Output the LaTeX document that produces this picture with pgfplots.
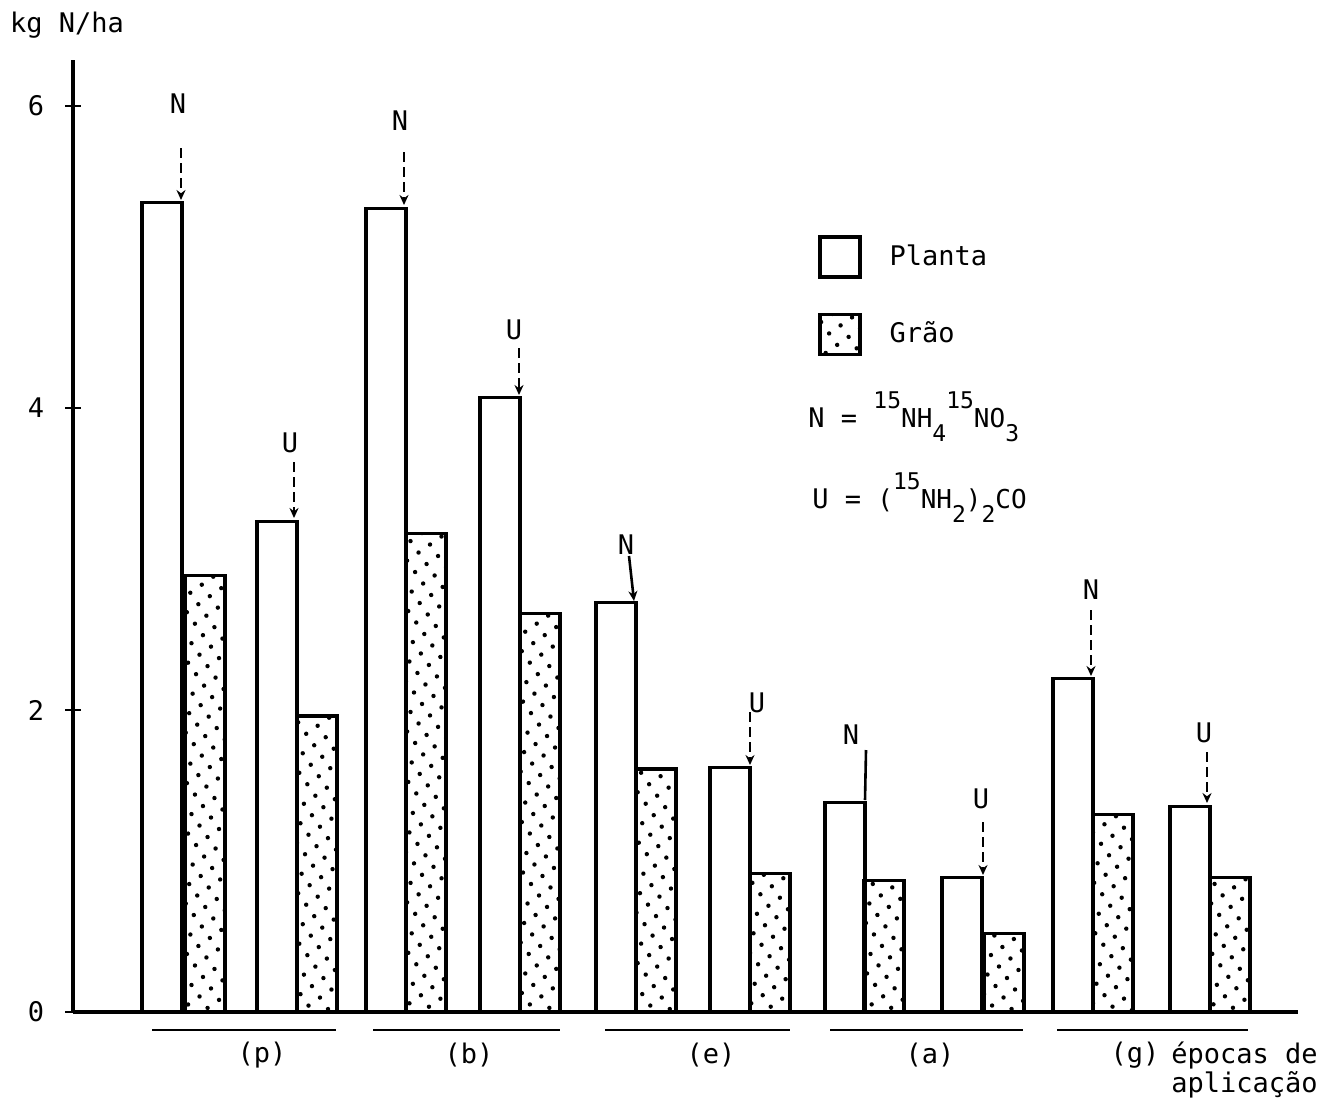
\documentclass[border=0pt]{standalone}
\usepackage{fontspec}
\setmainfont{DejaVu Sans Mono}
\usepackage{pgfplots}
\pgfplotsset{compat=1.18}
\usetikzlibrary{patterns.meta,arrows.meta}

% N uptake (kg N/ha) per application time; first bar of each pair = 15NH4 15NO3, second = urea
\pgfplotstableread{
x    y
162  5.36
277  3.25
386  5.32
500  4.07
616  2.71
730  1.62
845  1.39
962  0.89
1073 2.21
1190 1.36
}\planta
\pgfplotstableread{
x    y
205  2.89
317  1.96
426  3.17
540  2.64
656  1.61
770  0.92
884  0.87
1004 0.52
1113 1.31
1230 0.89
}\grao

\newcommand\up[1]{\raisebox{0.7em}{\fontsize{11.5}{12}\selectfont #1}}
\newcommand\dn[1]{\raisebox{-0.55em}{\fontsize{11.5}{12}\selectfont #1}}

\begin{document}
\fontsize{13.5}{16}\selectfont
\begin{tikzpicture}
\path[use as bounding box] (0pt,0pt) rectangle (665.5pt,-551pt);
\begin{axis}[
  at={(36.5pt,-506pt)}, anchor=south west,
  scale only axis, width=612.5pt, height=476pt,
  xmin=73, xmax=1298, ymin=0, ymax=6.305,
  axis x line=bottom, axis y line=left,
  axis line style={-, line width=1.6pt},
  xtick=\empty, ytick={0,2,4,6},
  tick style={black, line width=1.3pt},
  major tick length=8pt, tick align=center,
  /pgf/number format/assume math mode=true,
  yticklabel style={anchor=center, xshift=-14.5pt},
  clip=false,
  legend style={draw=none, fill=none, at={(axis cs:818,5.146)}, anchor=north west,
    inner sep=0pt, row sep=17pt, column sep=12pt,
    nodes={font=\fontsize{13.5}{16}\selectfont}},
  legend cell align=left,
  legend image code/.code={\draw[#1, line width=1.6pt] (0pt,-10pt) rectangle (20pt,10pt);},
]
\addplot[ybar, bar width=40, bar shift=0pt, draw=black, line width=1.6pt, fill=white]
  table[x=x, y=y] {\planta};
\addlegendentry{Planta}
\addplot[ybar, bar width=40, bar shift=0pt, draw=black, line width=1.6pt,
  pattern={Dots[distance=7pt, angle=35, radius=1.1pt]}, pattern color=black]
  table[x=x, y=y] {\grao};
\addlegendentry{Grão}
\end{axis}

\begin{scope}[x=0.5pt, y=-0.5pt]
  \node at (67,25) {kg N/ha};
  % source markers above the Planta bars
  \tikzset{src/.style={line width=1.3pt, dash pattern=on 5pt off 2.5pt, -{Stealth[length=5pt,width=4.5pt]}}}
  \node at (178,104) {N};  \draw[src] (181,148) -- (181,200);
  \node at (290,443) {U};  \draw[src] (294,462) -- (294,518);
  \node at (400,121) {N};  \draw[src] (404,152) -- (404,205);
  \node at (514,330) {U};  \draw[src] (519,348) -- (519,395);
  \node at (626,545) {N};  \draw[line width=1.3pt, -{Stealth[length=5pt,width=4.5pt]}] (629,556) -- (634,601);
  \node at (757,703) {U};  \draw[src] (750,712) -- (750,765);
  \node at (851,735) {N};  \draw[line width=1.3pt] (866,750) -- (865,800);
  \node at (981,799) {U};  \draw[src] (983,822) -- (983,875);
  \node at (1091,590) {N}; \draw[src] (1091,610) -- (1091,676);
  \node at (1204,733) {U}; \draw[src] (1207,752) -- (1207,803);
  % formulas
  \node[anchor=base west, inner sep=0pt] at (808,427) {N = \fontsize{13}{14}\selectfont\up{15}NH\dn{4}\up{15}NO\dn{3}};
  \node[anchor=base west, inner sep=0pt] at (812,508) {U = \fontsize{13}{14}\selectfont(\up{15}NH\dn{2})\dn{2}CO};
  % application-time groups
  \foreach \a/\b/\c/\t in {152/336/262/p, 373/560/469/b, 605/790/711/e, 830/1023/930/a, 1057/1248/1135/g}{
    \draw[line width=1.2pt] (\a,1030) -- (\b,1030);
    \node at (\c,1055) {(\t)};
  }
  \node[anchor=east] at (1327,1055) {épocas de};
  \node[anchor=east] at (1327,1085) {aplicação};
\end{scope}
\end{tikzpicture}
\end{document}
